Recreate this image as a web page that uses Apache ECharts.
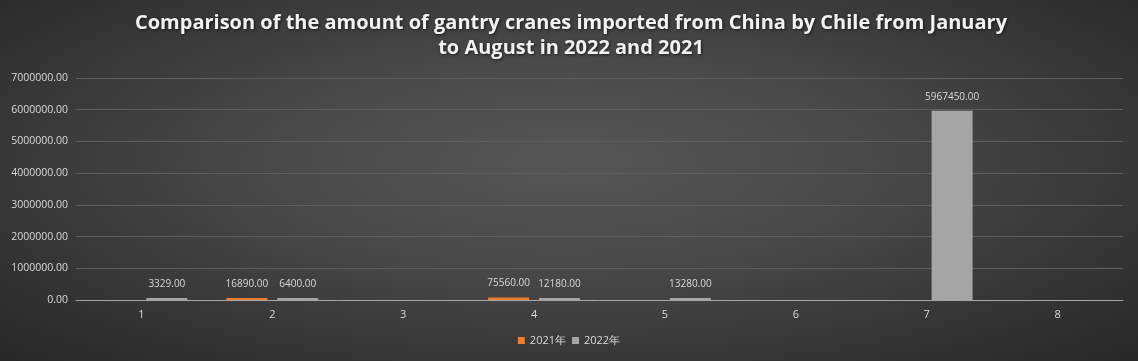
<!DOCTYPE html>
<html><head><meta charset="utf-8">
<script src="https://cdn.jsdelivr.net/npm/echarts@6/dist/echarts.min.js"></script>
<style>html,body{margin:0;padding:0;background:#333}#c{width:1138px;height:361px;background:radial-gradient(ellipse farthest-corner at 50% 45%, #565656 0%, #4a4a4a 35%, #272727 100%)}</style>
</head><body><div id="c"></div>
<script>
const categories = ['1','2','3','4','5','6','7','8'];
const series2021 = [null, 16890, null, 75560, null, null, null, null];
const series2022 = [3329, 6400, null, 12180, 13280, null, 5967450, null];
const seriesNames = ['2021年', '2022年'];
const yTicks = {min: 0, max: 7000000, interval: 1000000};

const chart = echarts.init(document.getElementById('c'));
const lbl = {show: true, position: 'top', color: '#d9d9d9', fontSize: 10, fontFamily: 'Open Sans', formatter: p => p.value == null ? '' : Number(p.value).toFixed(2), distance: 9};
chart.setOption({
  backgroundColor: 'transparent',
  title: {
    text: 'Comparison of the amount of gantry cranes imported from China by Chile from January\nto August in 2022 and 2021',
    left: 566, top: 6, textAlign: 'center',
    textStyle: {color: '#f2f2f2', fontSize: 20, fontWeight: 'bold', fontFamily: 'Open Sans', lineHeight: 25, align: 'center', textShadowColor: 'rgba(0,0,0,0.6)', textShadowBlur: 3, textShadowOffsetX: 1, textShadowOffsetY: 1}
  },
  legend: {
    data: seriesNames, bottom: 10, left: 'center', itemWidth: 7, itemHeight: 7, itemGap: 6, icon: 'rect',
    textStyle: {color: '#d9d9d9', fontSize: 11, fontFamily: 'Open Sans'}
  },
  grid: {left: 76, right: 15, top: 78, bottom: 61, containLabel: false},
  xAxis: {
    type: 'category', data: categories,
    axisLine: {lineStyle: {color: '#a6a6a6', width: 1}},
    axisTick: {show: false},
    axisLabel: {color: '#d9d9d9', fontSize: 11, fontFamily: 'Open Sans', margin: 9}
  },
  yAxis: {
    type: 'value', min: yTicks.min, max: yTicks.max, interval: yTicks.interval,
    axisLine: {show: false}, axisTick: {show: false},
    splitLine: {lineStyle: {color: '#5e5e5e', width: 1}},
    axisLabel: {color: '#d9d9d9', fontSize: 10.5, fontFamily: 'Open Sans', margin: 8, formatter: v => v.toFixed(2)}
  },
  series: [
    {name: seriesNames[0], type: 'bar', data: series2021, barWidth: 41, barGap: '24%', barMinHeight: 2, itemStyle: {color: '#ed7d31'}, label: lbl},
    {name: seriesNames[1], type: 'bar', data: series2022, barWidth: 41, barGap: '24%', barMinHeight: 2, itemStyle: {color: '#a5a5a5'}, label: lbl}
  ]
});
</script></body></html>
